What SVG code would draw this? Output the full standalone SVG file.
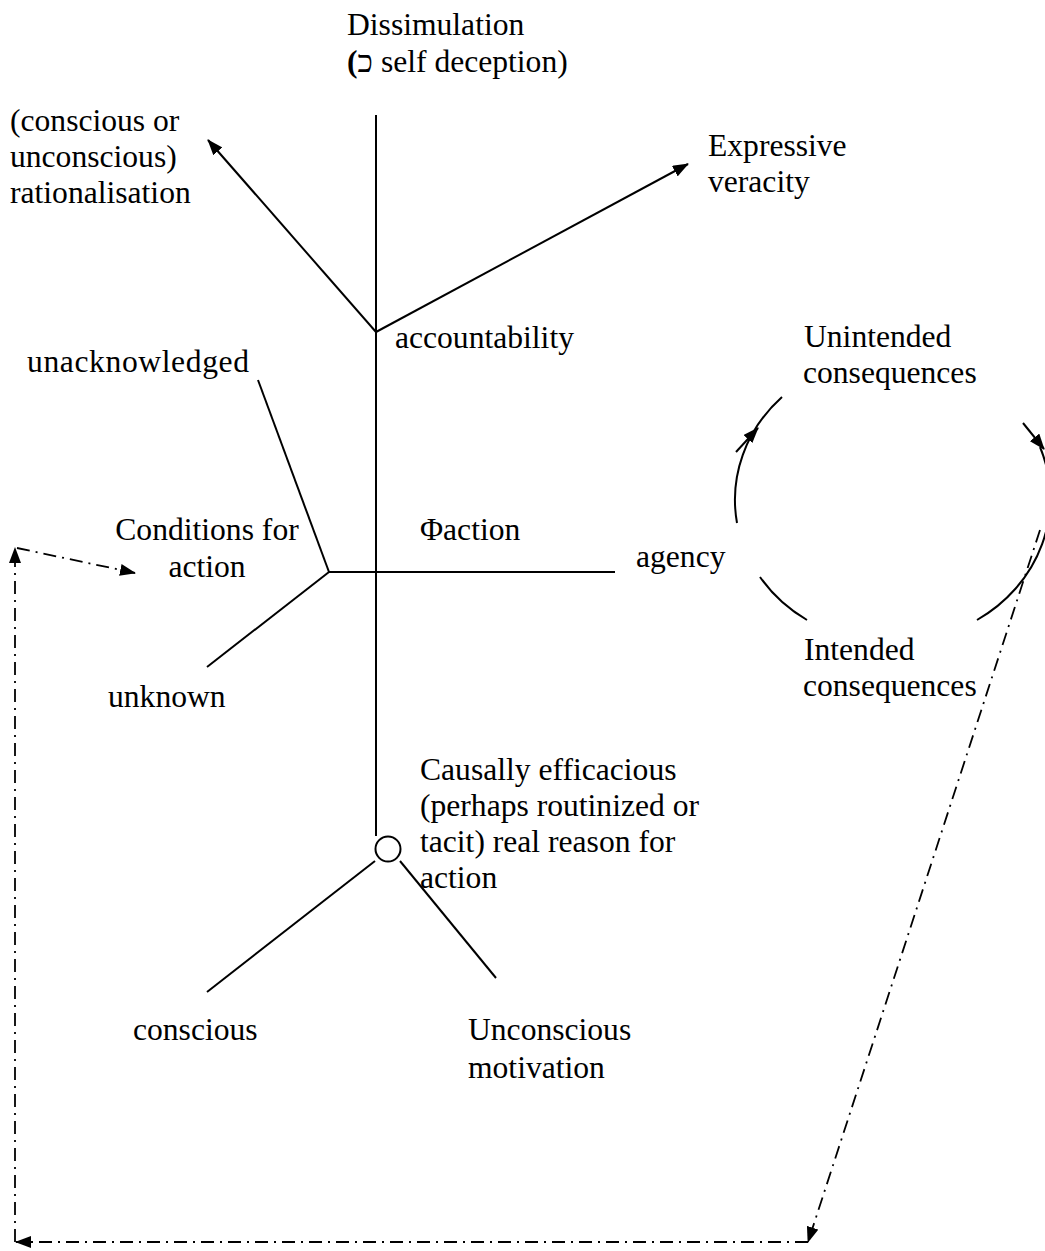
<svg xmlns="http://www.w3.org/2000/svg" width="1045" height="1251" viewBox="0 0 1045 1251">
  <style>
    text { font-family: "Liberation Serif", "Times New Roman", "DejaVu Sans", serif; font-size: 31.6px; fill: #000; }
    .mid { text-anchor: middle; }
    .ln { stroke: #000; stroke-width: 2; fill: none; }
    .dd { stroke: #000; stroke-width: 1.8; fill: none; stroke-dasharray: 13 6 2 6; }
  </style>
  <defs>
    <marker id="arrow" viewBox="0 0 16 12" refX="15" refY="6" markerWidth="16" markerHeight="12" markerUnits="userSpaceOnUse" orient="auto">
      <path d="M0,0 L16,6 L0,12 Z" fill="#000"/>
    </marker>
  </defs>

  <rect width="1045" height="1251" fill="#fff"/>

  <!-- connectors -->
  <g id="connectors">
    <!-- main trunk -->
    <line class="ln" x1="376" y1="115" x2="376" y2="836"/>
    <!-- branches at accountability -->
    <line class="ln" x1="376" y1="332" x2="208" y2="140" marker-end="url(#arrow)"/>
    <line class="ln" x1="376" y1="332" x2="688" y2="164" marker-end="url(#arrow)"/>
    <!-- conditions for action -->
    <line class="ln" x1="258" y1="380" x2="329" y2="572"/>
    <line class="ln" x1="329" y1="572" x2="207" y2="667"/>
    <line class="ln" x1="329" y1="572" x2="615" y2="572"/>
    <!-- reasons for action -->
    <line class="ln" x1="375" y1="861" x2="207" y2="992"/>
    <line class="ln" x1="400" y1="861" x2="496" y2="978"/>
    <!-- consequence cycle -->
    <path class="ln" d="M782,397 A154,143 0 0 0 737,523"/>
    <line class="ln" x1="736" y1="452" x2="758" y2="428" marker-end="url(#arrow)"/>
    <path class="ln" d="M760,577 A154,143 0 0 0 807,620"/>
    <path class="ln" d="M1040,447 A154,143 0 0 1 977,620"/>
    <line class="ln" x1="1023" y1="423" x2="1044" y2="449" marker-end="url(#arrow)"/>
    <!-- feedback path -->
    <line class="dd" x1="1040" y1="530" x2="808" y2="1242" marker-end="url(#arrow)"/>
    <line class="dd" x1="808" y1="1242" x2="16" y2="1242" marker-end="url(#arrow)"/>
    <line class="dd" x1="15" y1="1242" x2="15" y2="548" marker-end="url(#arrow)"/>
    <line class="dd" x1="17" y1="548" x2="135" y2="573" marker-end="url(#arrow)"/>
  </g>

  <g id="dissimulation">
    <text x="347" y="35">Dissimulation</text>
    <text x="347" y="72"><tspan font-weight="bold">(</tspan>כ self deception)</text>
  </g>
  <g id="rationalisation">
    <text x="10" y="131">(conscious or</text>
    <text x="10" y="167">unconscious)</text>
    <text x="10" y="203">rationalisation</text>
  </g>
  <g id="expressive-veracity">
    <text x="708" y="156">Expressive</text>
    <text x="708" y="192">veracity</text>
  </g>
  <g id="accountability">
    <text x="395" y="348">accountability</text>
  </g>
  <g id="unacknowledged">
    <text x="27" y="372" textLength="222" lengthAdjust="spacing">unacknowledged</text>
  </g>
  <g id="conditions">
    <text class="mid" x="207" y="540">Conditions for</text>
    <text class="mid" x="207" y="577">action</text>
  </g>
  <g id="unknown">
    <text x="108" y="707">unknown</text>
  </g>
  <g id="action">
    <text x="420" y="540">Φaction</text>
  </g>
  <g id="agency">
    <text x="636" y="567">agency</text>
  </g>
  <g id="unintended">
    <text x="804" y="347">Unintended</text>
    <text x="803" y="383">consequences</text>
  </g>
  <g id="intended">
    <text x="804" y="660">Intended</text>
    <text x="803" y="696">consequences</text>
  </g>
  <g id="real-reason">
    <circle class="ln" cx="388" cy="849" r="12.5"/>
    <text x="420" y="780">Causally efficacious</text>
    <text x="420" y="816">(perhaps routinized or</text>
    <text x="420" y="852">tacit) real reason for</text>
    <text x="420" y="888">action</text>
  </g>
  <g id="conscious">
    <text x="133" y="1040">conscious</text>
  </g>
  <g id="unconscious">
    <text x="468" y="1040">Unconscious</text>
    <text x="468" y="1078">motivation</text>
  </g>
</svg>
